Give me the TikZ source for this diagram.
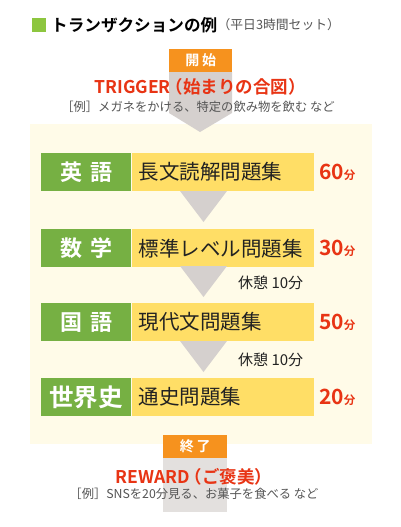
\documentclass[tikz,border=0pt]{standalone}
\usepackage{fontspec}
\setmainfont{Noto Sans CJK JP}[BoldFont={Noto Sans CJK JP Bold}]
\definecolor{lime}{RGB}{141,198,63}
\definecolor{grn}{RGB}{118,176,67}
\definecolor{yel}{RGB}{255,222,102}
\definecolor{org}{RGB}{246,146,30}
\definecolor{rd}{RGB}{232,52,20}
\definecolor{tri}{RGB}{213,208,206}
\definecolor{gry}{RGB}{227,224,222}
\definecolor{pale}{RGB}{255,251,232}
\definecolor{txt}{RGB}{34,34,34}
\definecolor{sub}{RGB}{85,85,85}
\tikzset{
  greenbox/.style={fill=grn, text=white, font=\bfseries\fontsize{22}{22}\selectfont, minimum width=90, minimum height=38, inner sep=0, anchor=north west},
  yelbox/.style={fill=yel, text=txt, font=\fontsize{20.5}{20.5}\selectfont, minimum width=182, minimum height=38, inner xsep=7, inner ysep=0, text width=168, align=left, anchor=west},
  timebox/.style={text=rd, font=\bfseries\fontsize{21}{21}\selectfont, inner sep=0, anchor=west},
  restbox/.style={text=txt, font=\fontsize{15}{15}\selectfont, inner sep=0, anchor=west},
  tagbox/.style={fill=org, text=white, font=\bfseries\fontsize{14}{14}\selectfont, minimum width=63, minimum height=23, inner sep=0, anchor=north west},
  headline/.style={text=rd, font=\bfseries\fontsize{17.5}{17.5}\selectfont, inner sep=0},
  example/.style={text=sub, font=\fontsize{12.3}{12.3}\selectfont, inner sep=0},
  tridown/.style={fill=tri}
}
\begin{document}
\begin{tikzpicture}[x=1pt,y=-1pt]
\useasboundingbox[fill=white] (0,0) rectangle (400,527);
% title
\fill[lime] (32,18) rectangle (46,32);
\node[anchor=west, inner sep=0, text=black, font=\bfseries\fontsize{16.6}{17}\selectfont] (title) at (51,25) {トランザクションの例};
\node[anchor=west, inner sep=0, text=sub, font=\fontsize{12.8}{13}\selectfont] (titlesub) at (title.east) {（平日3時間セット）};
% background
\fill[pale] (30,124) rectangle (372,444);
% start arrow
\fill[tri] (169,72) -- (232,72) -- (232,113) -- (200,132) -- (169,113) -- cycle;
\node[tagbox] (start) at (169,49) {開\hspace{0.2em}始};
\node[headline] (trigger) at (200,87) {TRIGGER\hspace{-0.3em}（始まりの合図）};
\node[example] (ex1) at (198,107) {［例］メガネをかける、特定の飲み物を飲む など};
% rows
\node[greenbox] (g1) at (41,153) {英\hspace{0.35em}語};
\node[yelbox] (y1) at (g1.east) {長文読解問題集};
\node[timebox] (t1) at (319,172) {60{\fontsize{11.5}{11.5}\selectfont 分}};

\node[greenbox] (g2) at (41,229) {数\hspace{0.35em}学};
\node[yelbox] (y2) at (g2.east) {標準レベル問題集};
\node[timebox] (t2) at (319,248) {30{\fontsize{11.5}{11.5}\selectfont 分}};

\node[greenbox] (g3) at (41,303) {国\hspace{0.35em}語};
\node[yelbox] (y3) at (g3.east) {現代文問題集};
\node[timebox] (t3) at (319,322) {50{\fontsize{11.5}{11.5}\selectfont 分}};

\node[greenbox, font=\bfseries\fontsize{24.5}{24.5}\selectfont] (g4) at (41,378) {世界史};
\node[yelbox] (y4) at (g4.east) {通史問題集};
\node[timebox] (t4) at (319,397) {20{\fontsize{11.5}{11.5}\selectfont 分}};

% triangles
\fill[tridown] (180,191) -- (227,191) -- (203.5,222) -- cycle;
\fill[tridown] (180,266) -- (227,266) -- (203.5,297) -- cycle;
\fill[tridown] (180,341) -- (227,341) -- (203.5,372) -- cycle;
\node[restbox] (r1) at (238,283) {休憩 10分};
\node[restbox] (r2) at (238,360) {休憩 10分};
% end
\fill[gry] (163,458) rectangle (227,512);
\node[tagbox, minimum width=64] (end) at (163,435) {終\hspace{0.2em}了};
\node[headline] (reward) at (194,477) {REWARD\hspace{-0.3em}（ご褒美）};
\node[example] (ex2) at (194,494) {［例］SNSを20分見る、お菓子を食べる など};
\end{tikzpicture}
\end{document}
